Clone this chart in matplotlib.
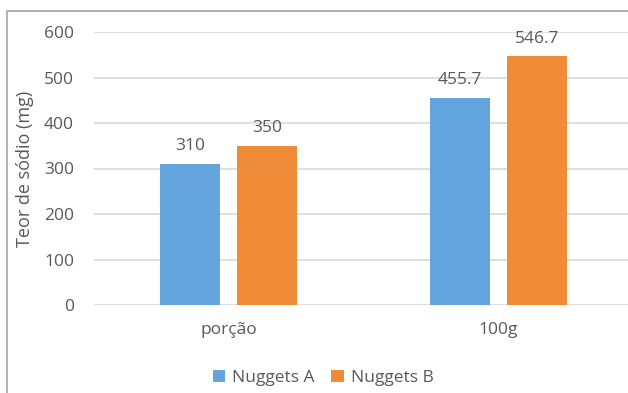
import matplotlib
matplotlib.use("Agg")
import matplotlib.pyplot as plt
from matplotlib.patches import Rectangle
import numpy as np

categories = ["porção", "100g"]
series_names = ["Nuggets A", "Nuggets B"]
nuggets_a = [310, 455.7]
nuggets_b = [350, 546.7]
value_labels_a = ["310", "455.7"]
value_labels_b = ["350", "546.7"]
y_ticks = [0, 100, 200, 300, 400, 500, 600]

plt.rcParams["font.family"] = ["Open Sans", "DejaVu Sans"]

W, H = 628, 393
fig = plt.figure(figsize=(W / 100, H / 100), dpi=100)

# outer chart frame
fig.patches.append(Rectangle((7 / W, -0.1), 1.2, (H - 11) / H + 0.1,
                             transform=fig.transFigure, fill=False,
                             edgecolor="#A6A6A6", linewidth=1.2))

left, right = 93.5 / W, 633.5 / W
bottom, top = (H - 305) / H, (H - 32) / H
ax = fig.add_axes([left, bottom, right - left, top - bottom])

text_color = "#595959"
blue = "#63A5DC"
orange = "#F08C38"

x = np.arange(len(categories))
width = 0.222
offset = 0.1426

bars_a = ax.bar(x - offset, nuggets_a, width, color=blue, label=series_names[0], zorder=3)
bars_b = ax.bar(x + offset, nuggets_b, width, color=orange, label=series_names[1], zorder=3)

for bars, labels in ((bars_a, value_labels_a), (bars_b, value_labels_b)):
    ax.bar_label(bars, labels=labels, padding=7, fontsize=12.5, color=text_color)

ax.set_xlim(-0.5, 1.5)
ax.set_ylim(0, 600)
ax.set_yticks(y_ticks)
ax.set_xticks(x)
ax.set_xticklabels(categories)
ax.tick_params(axis="y", length=0, pad=14, labelsize=12.5, labelcolor=text_color)
ax.tick_params(axis="x", length=0, pad=12, labelsize=12.5, labelcolor=text_color)
ax.yaxis.grid(True, color="#D9D9D9", linewidth=1.2, zorder=0)
ax.set_axisbelow(True)
for s in ax.spines.values():
    s.set_visible(False)

ax.set_ylabel("Teor de sódio (mg)", fontsize=13, color=text_color)
ax.yaxis.set_label_coords((25 - 93.5) / (633.5 - 93.5), 0.5)
ax.yaxis.label.set_verticalalignment("center")

fig.legend(handles=[bars_a, bars_b], labels=series_names, loc="center",
           bbox_to_anchor=(323 / W, (H - 378) / H), ncol=2, frameon=False,
           fontsize=12.5, labelcolor=text_color, handlelength=0.7, handleheight=0.7,
           handletextpad=0.4, columnspacing=1.0)

fig.savefig("out.png", dpi=100)
